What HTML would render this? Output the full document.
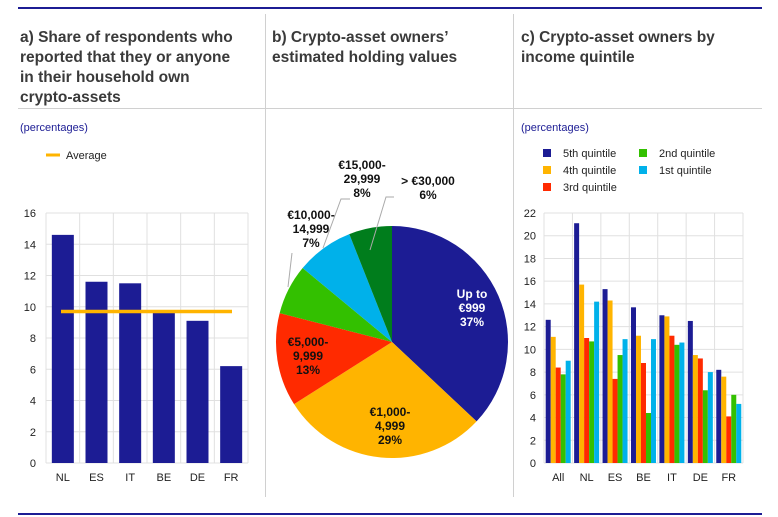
<!DOCTYPE html>
<html><head><meta charset="utf-8"><style>
body{margin:0;background:#fff;}
svg{display:block;font-family:"Liberation Sans",Arial,sans-serif;}
</style></head><body>
<svg id="s" width="778" height="517" viewBox="0 0 778 517" xmlns="http://www.w3.org/2000/svg">
<rect width="778" height="517" fill="#fff"/>
<line x1="18" y1="8" x2="762" y2="8" stroke="#1c1c94" stroke-width="2"/>
<line x1="18" y1="514" x2="762" y2="514" stroke="#1c1c94" stroke-width="2"/>
<line x1="265.5" y1="14" x2="265.5" y2="497" stroke="#d0d0d0"/>
<line x1="513.5" y1="14" x2="513.5" y2="497" stroke="#d0d0d0"/>
<line x1="18" y1="108.5" x2="762" y2="108.5" stroke="#d0d0d0"/>
<g font-size="15.5" font-weight="bold" fill="#3a3a3a">
<text x="20" y="42">a) Share of respondents who</text>
<text x="20" y="62">reported that they or anyone</text>
<text x="20" y="82">in their household own</text>
<text x="20" y="102">crypto-assets</text>
<text x="272" y="42">b) Crypto-asset owners’</text>
<text x="272" y="62">estimated holding values</text>
<text x="521" y="42">c) Crypto-asset owners by</text>
<text x="521" y="62">income quintile</text>
</g>
<g font-size="11" fill="#1c1c94">
<text x="20" y="131">(percentages)</text>
<text x="521" y="131">(percentages)</text>
</g>
<line x1="46" y1="155" x2="60" y2="155" stroke="#ffb400" stroke-width="3"/>
<text x="66" y="159" font-size="11" fill="#222">Average</text>
<g id="a"></g>
<g id="c"></g>
<g id="p"></g>
</svg>
<script>
var NS="http://www.w3.org/2000/svg";
function el(p,t,a,txt){var e=document.createElementNS(NS,t);for(var k in a)e.setAttribute(k,a[k]);if(txt!==undefined)e.textContent=txt;p.appendChild(e);return e;}
var A=document.getElementById('a');
var x0=46,x1=248,yb=463,yt=213;
for(var v=0;v<=16;v+=2){var y=yb-v*250/16;el(A,'line',{x1:x0,x2:x1,y1:y,y2:y,stroke:'#e0e0e0'});el(A,'text',{x:36,y:y+4,'font-size':11,'text-anchor':'end',fill:'#222'},v);}
var ca=['NL','ES','IT','BE','DE','FR'],va=[14.6,11.6,11.5,9.6,9.1,6.2],cw=(x1-x0)/6;
for(var i=0;i<=6;i++)el(A,'line',{x1:x0+i*cw,x2:x0+i*cw,y1:yt,y2:yb,stroke:'#e0e0e0'});
for(var i=0;i<6;i++){var cx=x0+cw*(i+.5);el(A,'rect',{x:cx-11,y:yb-va[i]*250/16,width:22,height:va[i]*250/16,fill:'#1c1c94'});el(A,'text',{x:cx,y:481,'font-size':11,'text-anchor':'middle',fill:'#222'},ca[i]);}
el(A,'line',{x1:61,x2:232,y1:311.5,y2:311.5,stroke:'#ffb400','stroke-width':3.5});
var C=document.getElementById('c');
x0=544;x1=743;
var cols=['#1c1c94','#ffb400','#ff2a00','#33c000','#00b1ea'],names=['5th quintile','4th quintile','3rd quintile','2nd quintile','1st quintile'];
var lp=[[543,155],[543,172],[543,189],[639,155],[639,172]];
for(var k=0;k<5;k++){el(C,'rect',{x:lp[k][0],y:lp[k][1]-6,width:8,height:8,fill:cols[k]});el(C,'text',{x:lp[k][0]+20,y:lp[k][1]+2,'font-size':11,fill:'#222'},names[k]);}
for(var v=0;v<=22;v+=2){var y=yb-v*250/22;el(C,'line',{x1:x0,x2:x1,y1:y,y2:y,stroke:'#e0e0e0'});el(C,'text',{x:536,y:y+4,'font-size':11,'text-anchor':'end',fill:'#222'},v);}
var cc=['All','NL','ES','BE','IT','DE','FR'];
var vc=[[12.6,11.1,8.4,7.8,9.0],[21.1,15.7,11.0,10.7,14.2],[15.3,14.3,7.4,9.5,10.9],[13.7,11.2,8.8,4.4,10.9],[13.0,12.9,11.2,10.4,10.6],[12.5,9.5,9.2,6.4,8.0],[8.2,7.6,4.1,6.0,5.2]];
cw=(x1-x0)/7;
for(var i=0;i<=7;i++)el(C,'line',{x1:x0+i*cw,x2:x0+i*cw,y1:yt,y2:yb,stroke:'#e0e0e0'});
for(var i=0;i<7;i++){var s=x0+i*cw+1.7;for(var k=0;k<5;k++){var h=vc[i][k]*250/22;el(C,'rect',{x:s+k*5,y:yb-h,width:5,height:h,fill:cols[k]});}
el(C,'text',{x:x0+cw*(i+.5),y:481,'font-size':11,'text-anchor':'middle',fill:'#222'},cc[i]);}
var P=document.getElementById('p');
var pc=[37,29,13,7,8,6],pcol=['#1c1c94','#ffb400','#ff2a00','#33c000','#00b1ea','#007d1c'];
var cx=392,cy=342,r=116,cum=0;
for(var i=0;i<6;i++){var a1=cum/100*2*Math.PI;cum+=pc[i];var a2=cum/100*2*Math.PI;
var d='M'+cx+','+cy+' L'+(cx+r*Math.sin(a1))+','+(cy-r*Math.cos(a1))+' A'+r+','+r+' 0 '+(pc[i]>50?1:0)+' 1 '+(cx+r*Math.sin(a2))+','+(cy-r*Math.cos(a2))+' Z';
el(P,'path',{d:d,fill:pcol[i]});}
el(P,'polyline',{points:'288,287 292,253',fill:'none',stroke:'#aaa'});
el(P,'polyline',{points:'323,248 341,199 350,199',fill:'none',stroke:'#aaa'});
el(P,'polyline',{points:'370,250 386,197 394,197',fill:'none',stroke:'#aaa'});
function lab(x,y,lines,fill){for(var j=0;j<lines.length;j++)el(P,'text',{x:x,y:y+j*14,'font-size':12,'font-weight':'bold','text-anchor':'middle',fill:fill},lines[j]);}
lab(472,298,['Up to','€999','37%'],'#fff');
lab(390,416,['€1,000-','4,999','29%'],'#111');
lab(308,346,['€5,000-','9,999','13%'],'#111');
lab(311,219,['€10,000-','14,999','7%'],'#111');
lab(362,169,['€15,000-','29,999','8%'],'#111');
lab(428,185,['> €30,000','6%'],'#111');
</script>
</body></html>
